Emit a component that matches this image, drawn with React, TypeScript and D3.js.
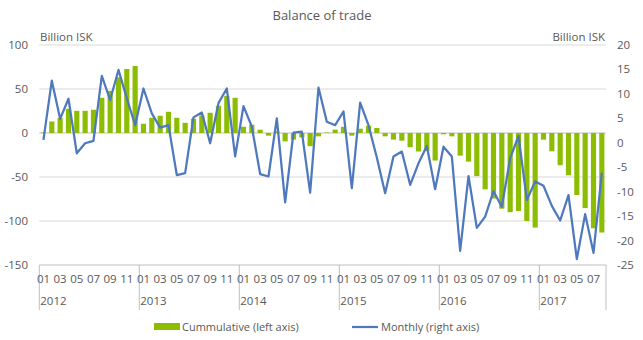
import React from "react";
import * as d3 from "d3";

const years = ["2012", "2013", "2014", "2015", "2016", "2017"];
const monthLabels = ["01", "03", "05", "07", "09", "11"];

const monthly: number[] = [
  0.6, 12.7, 4.9, 9.0, -2.15, -0.1, 0.4, 13.7, 8.75, 14.9, 9.1, 3.6,
  11.1, 6.0, 3.1, 3.6, -6.6, -6.2, 5.2, 6.2, -0.1, 8.1, 11.1, -2.8,
  7.5, 3.3, -6.4, -6.9, 5.0, -12.2, 2.1, 2.3, -10.2, 11.3, 4.3, 3.6,
  6.4, -9.3, 8.2, 3.6, -3.0, -10.3, -2.8, -1.8, -8.6, -4.2, -0.65, -9.5,
  -0.8, -2.8, -22.1, -6.8, -17.4, -15.1, -9.9, -13.1, -3.2, 1.4, -11.7, -7.9,
  -8.8, -12.9, -15.9, -10.7, -23.8, -14.6, -22.5, -6.1,
];

const cumulative: number[] = [
  0.6, 13.1, 17.0, 27.5, 25.2, 25.2, 26.4, 40, 47.9, 63.3, 72.7, 76.1,
  10.5, 17.3, 19.6, 24.1, 17.3, 11.6, 16.2, 20, 23, 30.9, 42.2, 40,
  7.1, 9.4, 3.7, -3, 2, -9.5, -7.5, -5, -15, -3.8, 0.5, 3.8,
  7.1, -3, 4.9, 8.3, 5.7, -3.8, -7.5, -8.7, -16.2, -21, -20.5, -31.3,
  -1.5, -3.8, -25.7, -32.5, -49, -64, -74.4, -86, -90, -88.7, -100, -107.5,
  -7.6, -20.8, -36.6, -48, -70.5, -85.3, -108.3, -113.1,
];

const leftTicks = [100, 50, 0, -50, -100, -150];
const rightTicks = [20, 15, 10, 5, 0, -5, -10, -15, -20, -25];

const W = 643;
const H = 340;
const X0 = 39.3;
const X1 = 606;
const YT = 45;
const YB = 265;
const FONT = "'Open Sans', 'Liberation Sans', sans-serif";
const GREEN = "#8cbd00";
const BLUE = "#4f79bd";
const TXT = "#595959";

export default function App() {
  const idx = monthly.map((_, i) => i);
  const x = d3.scaleBand<number>().domain(idx).range([X0, X1]).paddingInner(0.38).paddingOuter(0.19);
  const xc = (i: number) => (x(i) as number) + x.bandwidth() / 2;
  const step = (X1 - X0) / monthly.length;
  const yL = d3.scaleLinear().domain([-150, 100]).range([YB, YT]);
  const yR = d3.scaleLinear().domain([-25, 20]).range([YB, YT]);
  const line = d3
    .line<number>()
    .x((_, i) => xc(i))
    .y((d) => yR(d));

  return (
    <svg width={W} height={H} style={{ position: "absolute", left: 0, top: 0 }} fontFamily={FONT}>
      <rect x={0} y={0} width={W} height={H} fill="#fff" />
      <text x={322} y={20} textAnchor="middle" fontSize={13} fill={TXT}>Balance of trade</text>
      <text x={40} y={41} fontSize={11.5} fill={TXT}>Billion ISK</text>
      <text x={605} y={41} textAnchor="end" fontSize={11.5} fill={TXT}>Billion ISK</text>

      {leftTicks.map((t) => (
        <g key={"l" + t}>
          {t !== -150 && (
            <line x1={X0} x2={X1} y1={yL(t)} y2={yL(t)} stroke={t === 0 ? "#bfbfbf" : "#d9d9d9"} strokeWidth={1} />
          )}
          <text x={28} y={yL(t) + 4} textAnchor="end" fontSize={11.5} fill={TXT}>{t}</text>
        </g>
      ))}
      {rightTicks.map((t) => (
        <text key={"r" + t} x={617} y={yR(t) + 4} fontSize={11.5} fill={TXT}>{t}</text>
      ))}

      {cumulative.map((v, i) => (
        <rect
          key={"b" + i}
          x={x(i)}
          width={x.bandwidth()}
          y={Math.min(yL(v), yL(0))}
          height={Math.abs(yL(v) - yL(0))}
          fill={GREEN}
        />
      ))}

      <path d={line(monthly) || ""} fill="none" stroke={BLUE} strokeWidth={2.25} strokeLinejoin="round" />

      <line x1={X0} x2={X1} y1={YB} y2={YB} stroke="#bfbfbf" strokeWidth={1} />
      {years.map((yr, k) => {
        const xs = X0 + k * 12 * step;
        return (
          <g key={yr}>
            <line x1={xs} x2={xs} y1={YB} y2={310} stroke="#bfbfbf" strokeWidth={1} />
            <text x={xs + 1} y={305} fontSize={11.5} fill={TXT}>{yr}</text>
          </g>
        );
      })}
      <line x1={X1} x2={X1} y1={YB} y2={310} stroke="#bfbfbf" strokeWidth={1} />
      {idx
        .filter((i) => i % 2 === 0)
        .map((i) => (
          <text key={"m" + i} x={xc(i)} y={283} textAnchor="middle" fontSize={11.5} fill={TXT}>
            {monthLabels[(i % 12) / 2]}
          </text>
        ))}

      <rect x={154} y={323} width={26} height={7} fill={GREEN} />
      <text x={182} y={331} fontSize={11} fill={TXT}>Cummulative (left axis)</text>
      <line x1={352} x2={378} y1={327} y2={327} stroke={BLUE} strokeWidth={2.25} />
      <text x={381} y={331} fontSize={11} fill={TXT}>Monthly (right axis)</text>
    </svg>
  );
}
